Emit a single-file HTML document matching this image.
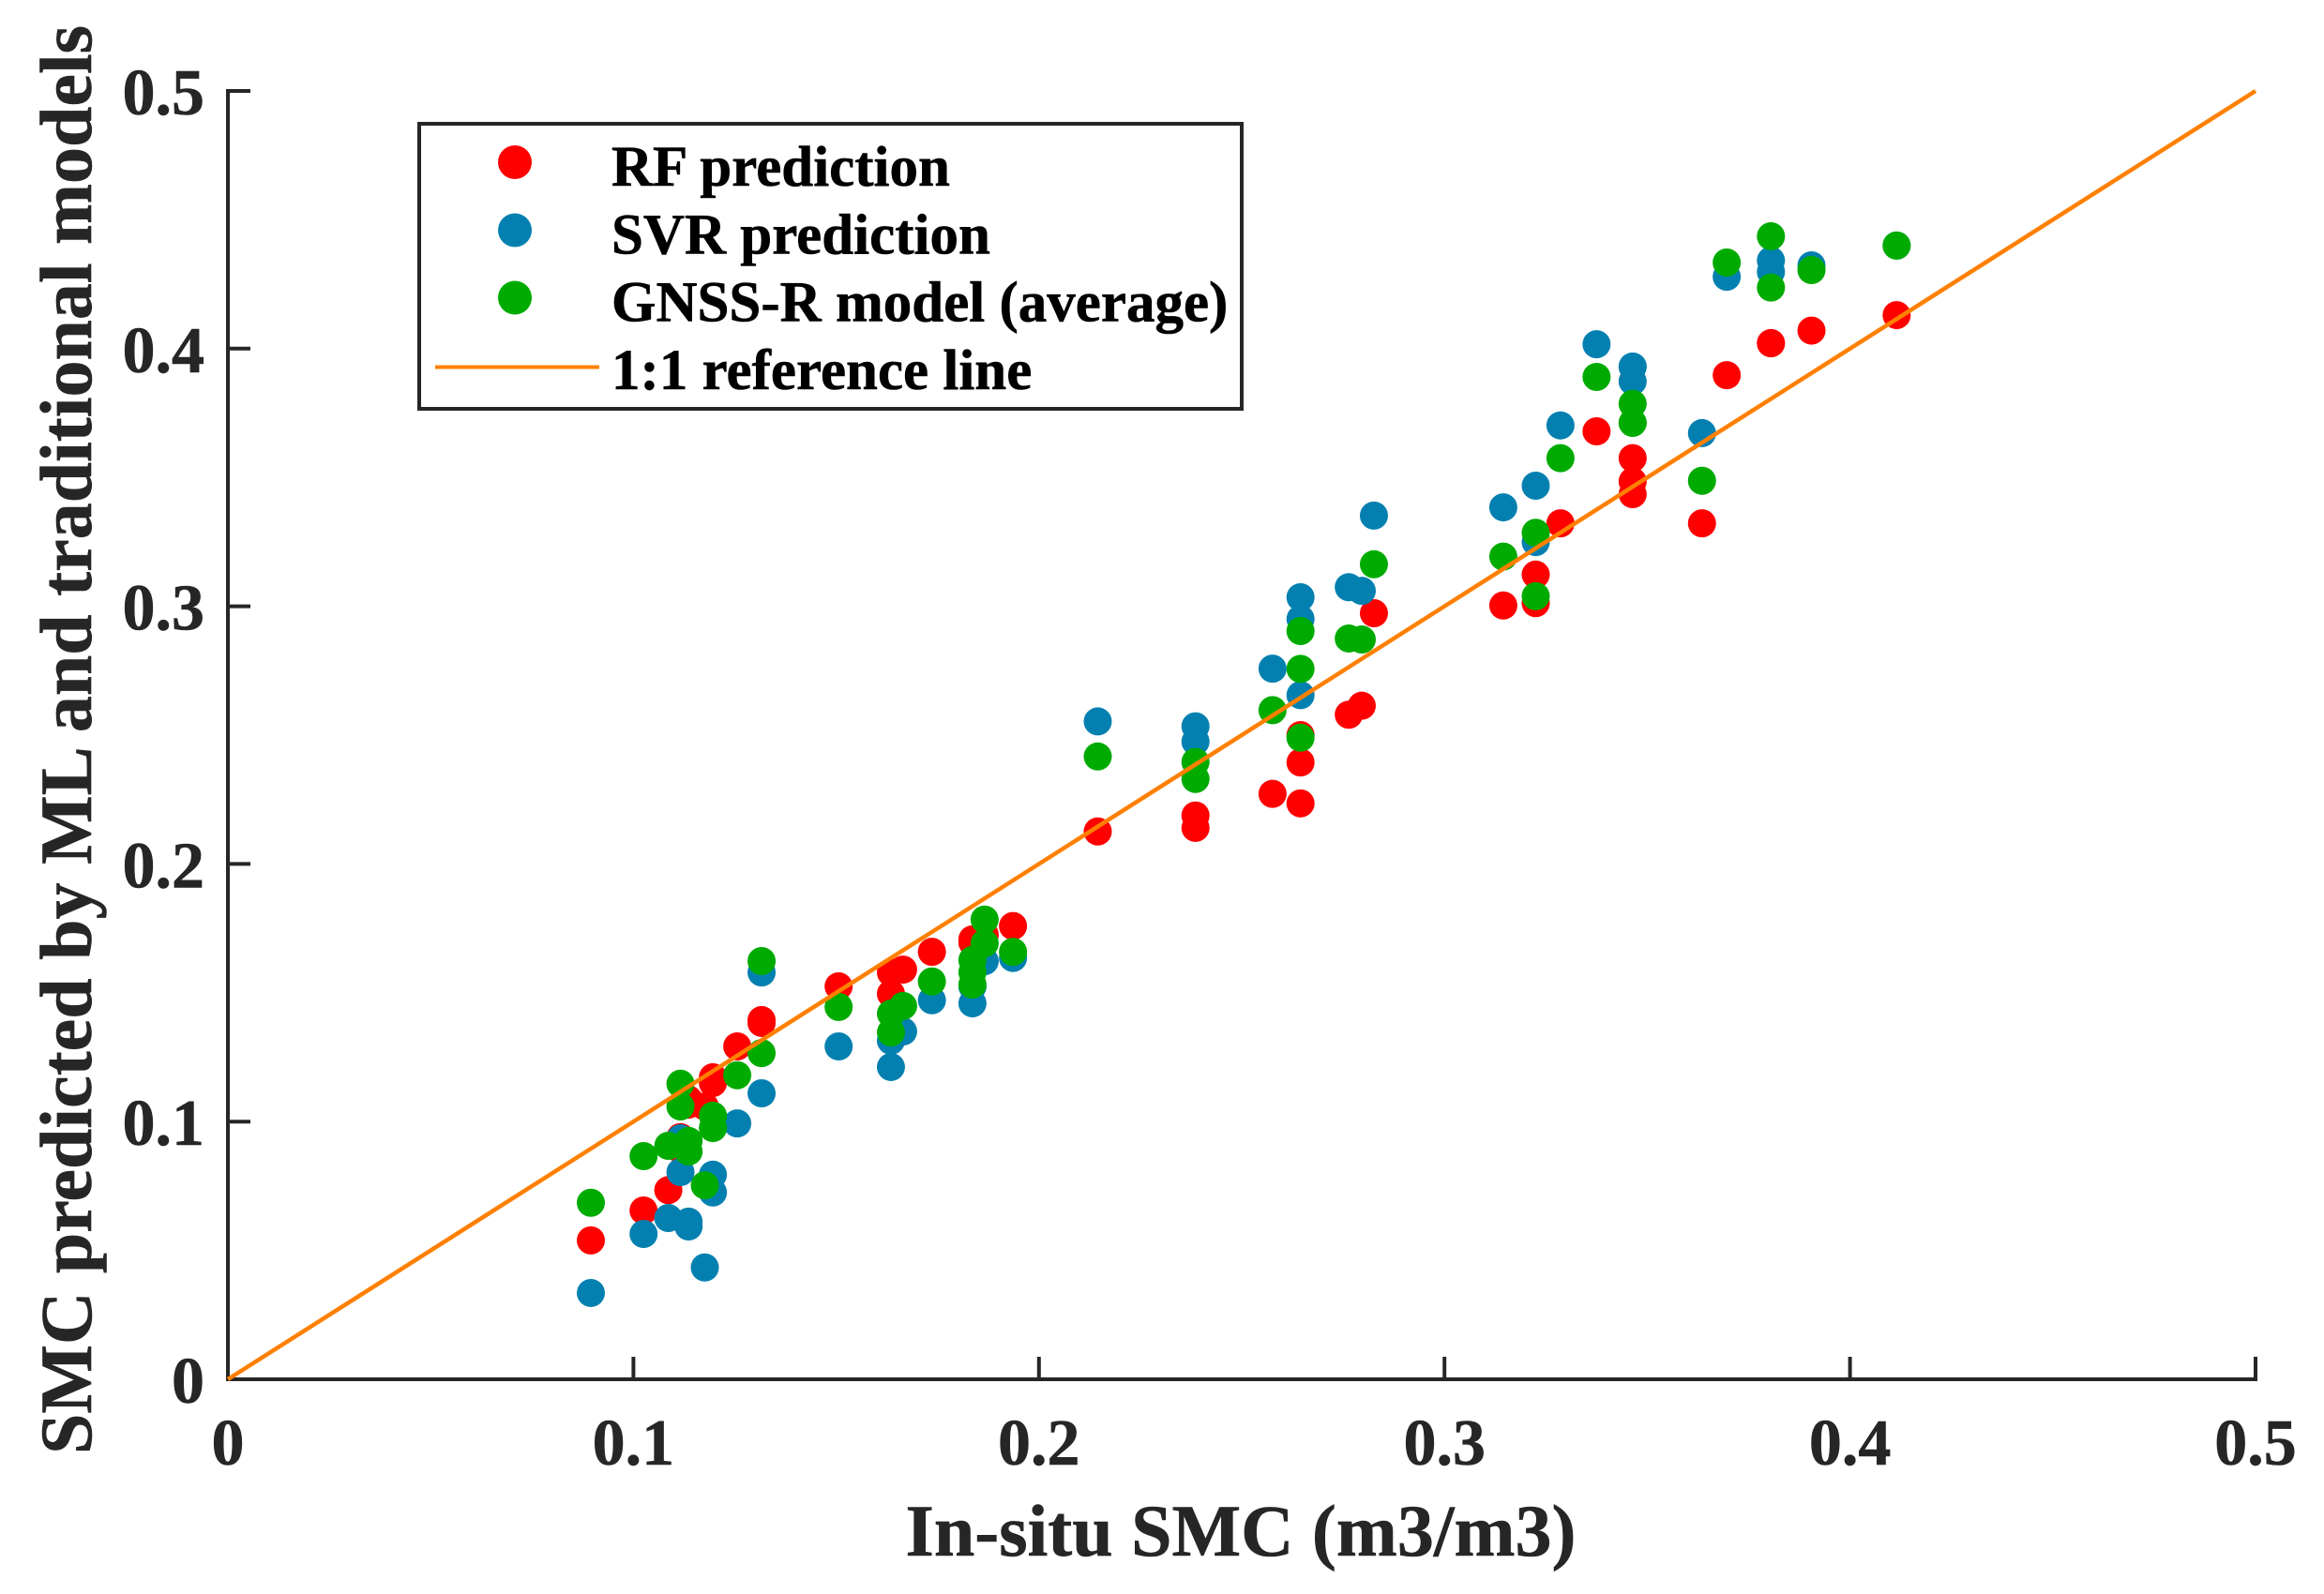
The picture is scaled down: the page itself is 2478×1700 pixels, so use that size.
<!DOCTYPE html>
<html lang="en">
<head>
<meta charset="utf-8">
<title>SMC scatter chart</title>
<style>
html,body{margin:0;padding:0;background:#fff;}
svg{display:block;}
text{font-family:"Liberation Serif",serif;font-weight:bold;stroke-width:0.6px;paint-order:stroke;}
</style>
</head>
<body>
<svg id="chart" xmlns="http://www.w3.org/2000/svg" width="2478" height="1700" viewBox="0 0 2478 1700">
  <rect x="0" y="0" width="2478" height="1700" fill="#ffffff"/>
  <g id="axes"></g>
  <g id="series-rf"></g>
  <g id="series-svr"></g>
  <g id="series-gnss"></g>
  <g id="reference"></g>
  <text x="1323" y="1659" font-size="78" text-anchor="middle" fill="#262626" stroke="#262626">In-situ SMC (m3/m3)</text>
  <text transform="translate(97 789) rotate(-90)" x="0" y="0" font-size="78" text-anchor="middle" fill="#262626" stroke="#262626">SMC predicted by ML and traditional models</text>
  <g>
    <rect x="447" y="132" width="877" height="304" fill="#ffffff" stroke="#262626" stroke-width="4"/>
    <circle cx="549" cy="173" r="18" fill="#ff0000"/>
    <circle cx="549" cy="245.5" r="18" fill="#0480b0"/>
    <circle cx="549" cy="317.5" r="18" fill="#00ab00"/>
    <line x1="464" y1="391.5" x2="639" y2="391.5" stroke="#ff8000" stroke-width="4"/>
    <text x="652" y="198" font-size="61" fill="#000000" stroke="#000000">RF prediction</text>
    <text x="652" y="270.5" font-size="61" fill="#000000" stroke="#000000">SVR prediction</text>
    <text x="652" y="342.5" font-size="61" fill="#000000" stroke="#000000">GNSS-R model (average)</text>
    <text x="652" y="415" font-size="61" fill="#000000" stroke="#000000">1:1 reference line</text>
  </g>
</svg>
<script>
const xTickValues = [0, 0.1, 0.2, 0.3, 0.4, 0.5];
const yTickValues = [0, 0.1, 0.2, 0.3, 0.4, 0.5];
const xTickLabels = ["0", "0.1", "0.2", "0.3", "0.4", "0.5"];
const yTickLabels = ["0", "0.1", "0.2", "0.3", "0.4", "0.5"];
const referenceLine = [0, 0.5];

const inSituSMC = [
  0.0895, 0.1025, 0.1086, 0.1116, 0.1116, 0.1136, 0.1136, 0.1176, 0.1196, 0.1196,
  0.1256, 0.1316, 0.1316, 0.1506, 0.1635, 0.1635, 0.1665, 0.1736, 0.1836, 0.1836,
  0.1836, 0.1866, 0.1866, 0.1936, 0.2145, 0.2386, 0.2386, 0.2576, 0.2645, 0.2645,
  0.2645, 0.2764, 0.2796, 0.2826, 0.3145, 0.3225, 0.3225, 0.3286, 0.3375, 0.3464,
  0.3464, 0.3464, 0.3635, 0.3696, 0.3805, 0.3805, 0.3905, 0.4115
];
const rfPrediction = [
  0.0539, 0.0655, 0.0734, 0.0940, 0.0892, 0.1086, 0.1066, 0.1059, 0.1172, 0.1150,
  0.1292, 0.1394, 0.1383, 0.1525, 0.1579, 0.1496, 0.1590, 0.1659, 0.1707, 0.1696,
  0.1696, 0.1725, 0.1725, 0.1759, 0.2126, 0.2188, 0.2140, 0.2272, 0.2500, 0.2394,
  0.2235, 0.2579, 0.2614, 0.2973, 0.3003, 0.3123, 0.3012, 0.3322, 0.3679, 0.3575,
  0.3485, 0.3435, 0.3322, 0.3897, 0.4021, 0.4021, 0.4070, 0.4130
];
const svrPrediction = [
  0.0335, 0.0564, 0.0626, 0.0935, 0.0804, 0.0612, 0.0593, 0.0434, 0.0794, 0.0725,
  0.0993, 0.1579, 0.1110, 0.1292, 0.1314, 0.1212, 0.1350, 0.1471, 0.1459, 0.1525,
  0.1525, 0.1623, 0.1623, 0.1635, 0.2553, 0.2534, 0.2475, 0.2758, 0.3035, 0.2951,
  0.2655, 0.3074, 0.3060, 0.3352, 0.3384, 0.3468, 0.3249, 0.3702, 0.4017, 0.3930,
  0.3930, 0.3873, 0.3672, 0.4279, 0.4342, 0.4298, 0.4323, 0.4400
];
const gnssModel = [
  0.0685, 0.0866, 0.0906, 0.1147, 0.1059, 0.0925, 0.0884, 0.0753, 0.1023, 0.0975,
  0.1180, 0.1623, 0.1266, 0.1445, 0.1419, 0.1346, 0.1449, 0.1544, 0.1627, 0.1580,
  0.1532, 0.1784, 0.1692, 0.1659, 0.2417, 0.2396, 0.2330, 0.2597, 0.2904, 0.2757,
  0.2490, 0.2875, 0.2871, 0.3163, 0.3193, 0.3285, 0.3039, 0.3575, 0.3890, 0.3786,
  0.3712, 0.3712, 0.3487, 0.4334, 0.4436, 0.4237, 0.4305, 0.4400
];

const SVG_NS = "http://www.w3.org/2000/svg";
const plotLeft = 243, plotRight = 2405, plotTop = 97, plotBottom = 1471;
const axisMax = 0.5;
function xScale(v) { return plotLeft + (v / axisMax) * (plotRight - plotLeft); }
function yScale(v) { return plotBottom - (v / axisMax) * (plotBottom - plotTop); }
function make(tag, attrs) {
  const el = document.createElementNS(SVG_NS, tag);
  for (const k in attrs) { el.setAttribute(k, attrs[k]); }
  return el;
}

const axes = document.getElementById("axes");
const xAxisLine = make("line", { x1: plotLeft - 2, y1: plotBottom, x2: plotRight + 2, y2: plotBottom, stroke: "#262626", "stroke-width": 4 });


axes.appendChild(xAxisLine);
const yAxisLine = make("line", { x1: plotLeft, y1: plotTop - 2, x2: plotLeft, y2: plotBottom + 2, stroke: "#262626", "stroke-width": 4 });


axes.appendChild(yAxisLine);

xTickValues.forEach(function (v, i) {
  const tick = make("line", { x1: xScale(v), y1: plotBottom, x2: xScale(v), y2: plotBottom - 24, stroke: "#262626", "stroke-width": 4 });
  
  
  axes.appendChild(tick);
  const label = make("text", { x: xScale(v), y: 1562, "font-size": 70, "text-anchor": "middle", fill: "#262626", stroke: "#262626" });
  label.textContent = xTickLabels[i];
  
  
  axes.appendChild(label);
});
yTickValues.forEach(function (v, i) {
  const tick = make("line", { x1: plotLeft, y1: yScale(v), x2: plotLeft + 24, y2: yScale(v), stroke: "#262626", "stroke-width": 4 });
  
  
  axes.appendChild(tick);
  const label = make("text", { x: 218, y: yScale(v) + 25, "font-size": 70, "text-anchor": "end", fill: "#262626", stroke: "#262626" });
  label.textContent = yTickLabels[i];
  
  
  axes.appendChild(label);
});

function drawSeries(groupId, values, color, markName) {
  const group = document.getElementById(groupId);
  values.forEach(function (v, i) {
    const dot = make("circle", { cx: xScale(inSituSMC[i]), cy: yScale(v), r: 15, fill: color });
    
    
    group.appendChild(dot);
  });
}
drawSeries("series-rf", rfPrediction, "#ff0000", "rf-point");
drawSeries("series-svr", svrPrediction, "#0480b0", "svr-point");
drawSeries("series-gnss", gnssModel, "#00ab00", "gnss-r-point");

const refLine = make("line", {
  x1: xScale(referenceLine[0]), y1: yScale(referenceLine[0]),
  x2: xScale(referenceLine[1]), y2: yScale(referenceLine[1]),
  stroke: "#ff8000", "stroke-width": 4.5
});


document.getElementById("reference").appendChild(refLine);
</script>
</body>
</html>
